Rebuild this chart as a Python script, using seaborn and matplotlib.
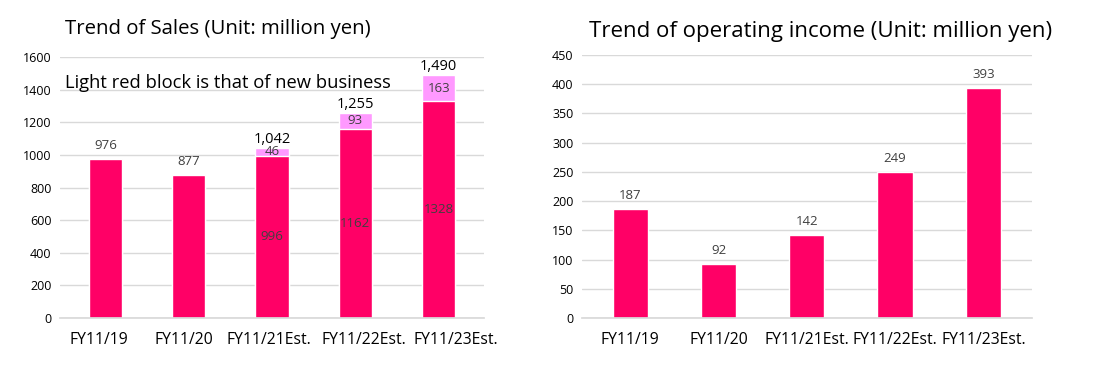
import pandas as pd
import matplotlib.pyplot as plt
import matplotlib.transforms as mtransforms
import seaborn as sns

# data
periods = ['FY11/19', 'FY11/20', 'FY11/21Est.', 'FY11/22Est.', 'FY11/23Est.']
sales_base = [976, 877, 996, 1162, 1328]
sales_new = [0, 0, 46, 93, 163]
sales_total_labels = ['976', '877', '1,042', '1,255', '1,490']
op_income = [187, 92, 142, 249, 393]

deep = '#FF0066'
light = '#FF99FF'
lab_color = '#404040'

sns.set_theme(style='white')
plt.rcParams['font.family'] = ['Open Sans', 'DejaVu Sans']
plt.rcParams['text.color'] = 'black'

df = pd.DataFrame({'period': periods, 'base': sales_base, 'new': sales_new,
                   'op': op_income})
df['total'] = df['base'] + df['new']

fig = plt.figure(figsize=(11.06, 3.66), dpi=100)
ax1 = fig.add_axes([0.054, 0.131, 0.384, 0.713])
ax2 = fig.add_axes([0.526, 0.131, 0.407, 0.719])


def style_axis(ax, ymax, step, xsize):
    ax.set_ylim(0, ymax)
    ax.set_yticks(range(0, ymax + 1, step))
    ax.grid(axis='y', color='#D9D9D9', linewidth=1)
    ax.set_axisbelow(True)
    for s in ['top', 'right', 'left']:
        ax.spines[s].set_visible(False)
    ax.spines['bottom'].set_color('#D9D9D9')
    ax.tick_params(axis='y', length=0, labelsize=9, colors='black', pad=6)
    ax.tick_params(axis='x', length=0, labelsize=xsize, colors='black', pad=10)
    ax.set_xlabel('')
    ax.set_ylabel('')


# sales: stacked bars (total in light, base in deep on top)
sns.barplot(data=df, x='period', y='total', color=light, width=0.4,
            saturation=1, ax=ax1)
sns.barplot(data=df, x='period', y='base', color=deep, width=0.4,
            saturation=1, ax=ax1)
style_axis(ax1, 1600, 200, 11.3)
ax1.set_xlim(-0.55, 4.55)

# excel-like spread of the crowded category labels (pixel shifts)
shifts = [-7, -5, -3, 9, 17]
for lab, dx in zip(ax1.get_xticklabels(), shifts):
    off = mtransforms.ScaledTranslation(dx / 100, 0, fig.dpi_scale_trans)
    lab.set_transform(lab.get_transform() + off)

for i, row in df.iterrows():
    if row['new'] > 0:
        ax1.text(i, row['base'] / 2, str(row['base']), ha='center', va='center',
                 fontsize=9.5, color=lab_color)
        ax1.text(i, row['base'] + row['new'] / 2, str(row['new']), ha='center',
                 va='center', fontsize=9.5, color=lab_color)
        ax1.text(i, row['total'] + 8, sales_total_labels[i], ha='center',
                 va='bottom', fontsize=10.5, color='black')
    else:
        ax1.text(i, row['total'] + 40, sales_total_labels[i], ha='center',
                 va='bottom', fontsize=9.5, color=lab_color)

ax1.text(0.012, 1.07, 'Trend of Sales (Unit: million yen)', transform=ax1.transAxes,
         fontsize=14.7, ha='left', va='bottom')
ax1.text(0.012, 0.935, 'Light red block is that of new business',
         transform=ax1.transAxes, fontsize=13.2, ha='left', va='top')

# operating income
sns.barplot(data=df, x='period', y='op', color=deep, width=0.4,
            saturation=1, ax=ax2)
style_axis(ax2, 450, 50, 11.3)
ax2.set_xlim(-0.55, 4.55)
for i, v in enumerate(op_income):
    ax2.text(i, v + 12, str(v), ha='center', va='bottom', fontsize=9.5,
             color=lab_color)
ax2.set_title('Trend of operating income (Unit: million yen)', fontsize=16,
              pad=13, x=0.53, color='black')

fig.savefig('out.png', dpi=100)
